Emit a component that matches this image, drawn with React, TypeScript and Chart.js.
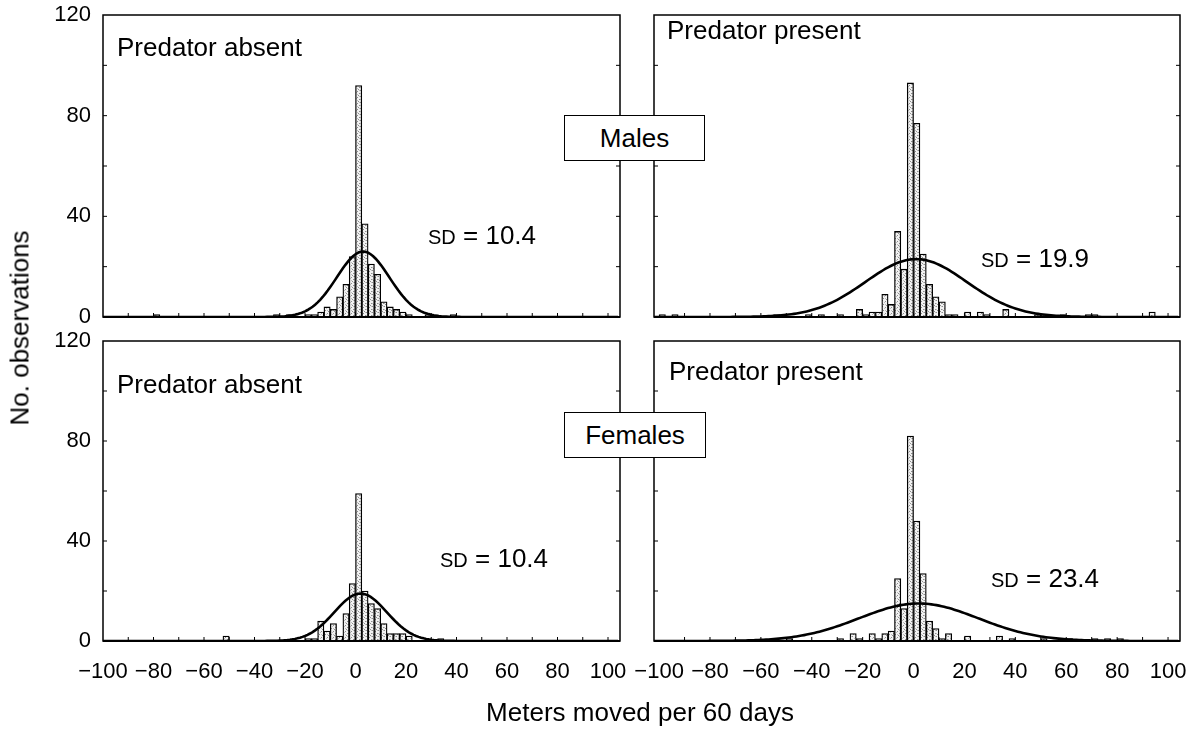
import { useEffect, useRef } from "react";
import { Chart, registerables } from "chart.js";

Chart.register(...registerables);

// Width of each histogram bin (metres)
const BIN_WIDTH = 2.5;

// Males, predator absent: left edge of each bin and its count
const maleAbsentBins = [-80, -32.5, -27.5, -20, -17.5, -15, -12.5, -10, -7.5, -5, -2.5, 0, 2.5, 5, 7.5, 10, 12.5, 15, 17.5, 20, 27.5, 37.5];
const maleAbsentCounts = [1, 1, 1, 1, 1, 2, 4, 3, 8, 13, 24, 92, 37, 21, 17, 6, 4, 3, 2, 1, 1, 1];

// Males, predator present
const malePresentBins = [-100, -95, -55, -42.5, -37.5, -30, -22.5, -20, -17.5, -15, -12.5, -10, -7.5, -5, -2.5, 0, 2.5, 5, 7.5, 10, 12.5, 15, 20, 25, 27.5, 35, 47.5, 50, 57.5, 67.5, 70, 92.5];
const malePresentCounts = [1, 1, 1, 1, 1, 1, 3, 1, 2, 2, 9, 5, 34, 19, 93, 77, 25, 13, 8, 6, 1, 1, 2, 2, 1, 3, 1, 1, 1, 1, 1, 2];

// Females, predator absent
const femaleAbsentBins = [-52.5, -20, -17.5, -15, -12.5, -10, -7.5, -5, -2.5, 0, 2.5, 5, 7.5, 10, 12.5, 15, 17.5, 20, 32.5];
const femaleAbsentCounts = [2, 1, 1, 8, 4, 7, 2, 11, 23, 59, 20, 15, 13, 7, 3, 3, 3, 2, 1];

// Females, predator present
const femalePresentBins = [-50, -30, -25, -22.5, -17.5, -15, -12.5, -10, -7.5, -5, -2.5, 0, 2.5, 5, 7.5, 10, 12.5, 20, 32.5, 37.5, 50, 60, 70, 75, 80];
const femalePresentCounts = [1, 1, 3, 1, 3, 1, 3, 4, 25, 13, 82, 48, 27, 8, 5, 1, 3, 2, 2, 1, 1, 1, 1, 1, 1];

// Fitted normal curves: standard deviation (as labelled), centre and peak height
const curveSD = [10.4, 19.9, 10.4, 23.4];
const curveMean = [3, 1, 2, 2];
const curvePeak = [26, 23, 19, 15];

// Horizontal extent of the left-hand and right-hand panels
const leftRange = [-100, 104.75];
const rightRange = [-102, 104.7];

// Axis ticks
const xTickValues = [-100, -80, -60, -40, -20, 0, 20, 40, 60, 80, 100];
const xMinorTicks = [-90, -80, -70, -60, -50, -40, -30, -20, -10, 0, 10, 20, 30, 40, 50, 60, 70, 80, 90, 100];
const yTickValues = [0, 40, 80, 120];
const yMinorTicks = [20, 40, 60, 80, 100];

const W = 1203;
const H = 736;
const FONT = '"Liberation Sans", Arial, Helvetica, sans-serif';

type Rect = { left: number; top: number; right: number; bottom: number };

const fmt = (v: number) => (v < 0 ? "\u2212" + Math.abs(v) : String(v));

// Light grey stippled fill for the bars
function makeStipple(ctx: CanvasRenderingContext2D): CanvasPattern | string {
  const c = document.createElement("canvas");
  c.width = 6;
  c.height = 6;
  const g = c.getContext("2d");
  if (!g) return "#e2e2e2";
  g.fillStyle = "#f2f2f2";
  g.fillRect(0, 0, 6, 6);
  const dark: [number, number][] = [[0, 0], [3, 1], [5, 3], [1, 4], [4, 5]];
  const mid: [number, number][] = [[2, 2], [5, 0], [0, 3], [3, 4]];
  g.fillStyle = "#8e8e8e";
  dark.forEach(([x, y]) => g.fillRect(x, y, 1, 1));
  g.fillStyle = "#bdbdbd";
  mid.forEach(([x, y]) => g.fillRect(x, y, 1, 1));
  return ctx.createPattern(c, "repeat") || "#e2e2e2";
}

// Closed frame around each panel plus short inward tick marks
const framePlugin = {
  id: "panelFrame",
  afterDraw(chart: any) {
    const { ctx, chartArea: a, scales } = chart;
    ctx.save();
    ctx.strokeStyle = "#000";
    ctx.lineWidth = 1.5;
    ctx.strokeRect(a.left, a.top, a.right - a.left, a.bottom - a.top);
    ctx.lineWidth = 2;
    ctx.beginPath();
    ctx.moveTo(a.left, a.bottom);
    ctx.lineTo(a.right, a.bottom);
    ctx.stroke();
    ctx.lineWidth = 1;
    ctx.beginPath();
    for (const v of xMinorTicks) {
      const px = scales.x.getPixelForValue(v);
      ctx.moveTo(px, a.bottom);
      ctx.lineTo(px, a.bottom - 4);
    }
    for (const v of yMinorTicks) {
      const py = scales.y.getPixelForValue(v);
      ctx.moveTo(a.left, py);
      ctx.lineTo(a.left + 4, py);
      ctx.moveTo(a.right, py);
      ctx.lineTo(a.right - 4, py);
    }
    ctx.stroke();
    ctx.restore();
  },
};

// Keep the plotting area exactly where the layout padding puts it
const pinScale = (scale: any) => {
  scale.paddingTop = 0;
  scale.paddingBottom = 0;
  scale.paddingLeft = 0;
  scale.paddingRight = 0;
};

function Panel(props: {
  bins: number[];
  counts: number[];
  index: number;
  rect: Rect;
  range: number[];
  showX: boolean;
  showY: boolean;
}) {
  const ref = useRef<HTMLCanvasElement | null>(null);
  const { bins, counts, index, rect, range, showX, showY } = props;

  useEffect(() => {
    const canvas = ref.current;
    if (!canvas) return;
    const ctx = canvas.getContext("2d");
    if (!ctx) return;

    const bars = bins.map((b, i) => ({ x: b + BIN_WIDTH / 2, y: counts[i] }));
    const sd = curveSD[index];
    const mu = curveMean[index];
    const peak = curvePeak[index];
    const curve: { x: number; y: number }[] = [];
    for (let x = Math.ceil(range[0]); x <= Math.floor(range[1]); x += 1) {
      curve.push({ x, y: peak * Math.exp(-((x - mu) * (x - mu)) / (2 * sd * sd)) });
    }

    const chart = new Chart(ctx, {
      type: "bar",
      data: {
        datasets: [
          {
            type: "line",
            data: curve,
            borderColor: "#000",
            borderWidth: 2.6,
            pointRadius: 0,
            fill: false,
            order: 0,
          } as any,
          {
            type: "bar",
            data: bars,
            backgroundColor: makeStipple(ctx),
            borderColor: "#000",
            borderWidth: 1.3,
            categoryPercentage: 1,
            barPercentage: 1,
            order: 1,
          } as any,
        ],
      },
      options: {
        animation: false,
        responsive: false,
        devicePixelRatio: 1,
        events: [],
        layout: {
          padding: { left: 0, top: rect.top, right: W - rect.right, bottom: 0 },
        },
        plugins: { legend: { display: false }, tooltip: { enabled: false } },
        scales: {
          x: {
            type: "linear",
            min: range[0],
            max: range[1],
            offset: false,
            grid: { display: false, drawTicks: false },
            border: { display: false },
            afterFit: (scale: any) => {
              scale.height = H - rect.bottom;
              pinScale(scale);
            },
            afterBuildTicks: (scale: any) => {
              scale.ticks = xTickValues.map((v) => ({ value: v }));
            },
            ticks: {
              display: showX,
              autoSkip: false,
              maxRotation: 0,
              padding: 18,
              color: "#000",
              font: { family: FONT, size: 22 },
              callback: (v: any) => fmt(Number(v)),
            },
          },
          y: {
            type: "linear",
            min: 0,
            max: 120,
            grid: { display: false, drawTicks: false },
            border: { display: false },
            afterFit: (scale: any) => {
              scale.width = rect.left;
              pinScale(scale);
            },
            afterBuildTicks: (scale: any) => {
              scale.ticks = yTickValues.map((v) => ({ value: v }));
            },
            ticks: {
              display: showY,
              padding: 12,
              color: "#000",
              font: { family: FONT, size: 22 },
              callback: (v: any) => String(v),
            },
          },
        },
      },
      plugins: [framePlugin],
    });
    return () => chart.destroy();
  }, [bins, counts, index, rect, range, showX, showY]);

  return (
    <canvas
      ref={ref}
      width={W}
      height={H}
      style={{ position: "absolute", left: 0, top: 0, width: W, height: H }}
    />
  );
}

const rectTL: Rect = { left: 103, top: 15, right: 620, bottom: 317 };
const rectTR: Rect = { left: 654, top: 15, right: 1180, bottom: 317 };
const rectBL: Rect = { left: 103, top: 341, right: 620, bottom: 641 };
const rectBR: Rect = { left: 654, top: 341, right: 1180, bottom: 641 };

function Label(props: { x: number; y: number; size?: number; children: any }) {
  const size = props.size ?? 26;
  return (
    <div
      style={{
        position: "absolute",
        left: props.x,
        top: props.y - size / 2,
        fontSize: size,
        lineHeight: size + "px",
        whiteSpace: "nowrap",
        color: "#000",
      }}
    >
      {props.children}
    </div>
  );
}

function SDLabel(props: { x: number; y: number; value: string }) {
  return (
    <Label x={props.x} y={props.y}>
      <span style={{ fontSize: 20 }}>SD</span> = {props.value}
    </Label>
  );
}

function GroupBox(props: { x: number; y: number; w: number; h: number; text: string }) {
  return (
    <div
      style={{
        position: "absolute",
        left: props.x,
        top: props.y,
        width: props.w,
        height: props.h,
        boxSizing: "border-box",
        border: "1.5px solid #000",
        background: "#fff",
        display: "flex",
        alignItems: "center",
        justifyContent: "center",
        fontSize: 26,
      }}
    >
      {props.text}
    </div>
  );
}

export default function App() {
  return (
    <div
      style={{
        position: "fixed",
        left: 0,
        top: 0,
        width: W,
        height: H,
        background: "#fff",
        fontFamily: FONT,
        overflow: "hidden",
      }}
    >
      <Panel bins={maleAbsentBins} counts={maleAbsentCounts} index={0} rect={rectTL} range={leftRange} showX={false} showY={true} />
      <Panel bins={malePresentBins} counts={malePresentCounts} index={1} rect={rectTR} range={rightRange} showX={false} showY={false} />
      <Panel bins={femaleAbsentBins} counts={femaleAbsentCounts} index={2} rect={rectBL} range={leftRange} showX={true} showY={true} />
      <Panel bins={femalePresentBins} counts={femalePresentCounts} index={3} rect={rectBR} range={rightRange} showX={true} showY={false} />

      <Label x={117} y={47}>Predator absent</Label>
      <Label x={667} y={30}>Predator present</Label>
      <Label x={117} y={384}>Predator absent</Label>
      <Label x={669} y={371}>Predator present</Label>

      <SDLabel x={428} y={235} value="10.4" />
      <SDLabel x={981} y={258} value="19.9" />
      <SDLabel x={440} y={558} value="10.4" />
      <SDLabel x={991} y={578} value="23.4" />

      <GroupBox x={564} y={115} w={141} h={46} text="Males" />
      <GroupBox x={564} y={412} w={142} h={46} text="Females" />

      <div
        style={{
          position: "absolute",
          left: 20,
          top: 328,
          fontSize: 26,
          whiteSpace: "nowrap",
          transform: "translate(-50%, -50%) rotate(-90deg)",
        }}
      >
        No. observations
      </div>
      <div
        style={{
          position: "absolute",
          left: 640,
          top: 698,
          fontSize: 26,
          lineHeight: "28px",
          whiteSpace: "nowrap",
          transform: "translateX(-50%)",
        }}
      >
        Meters moved per 60 days
      </div>
    </div>
  );
}
